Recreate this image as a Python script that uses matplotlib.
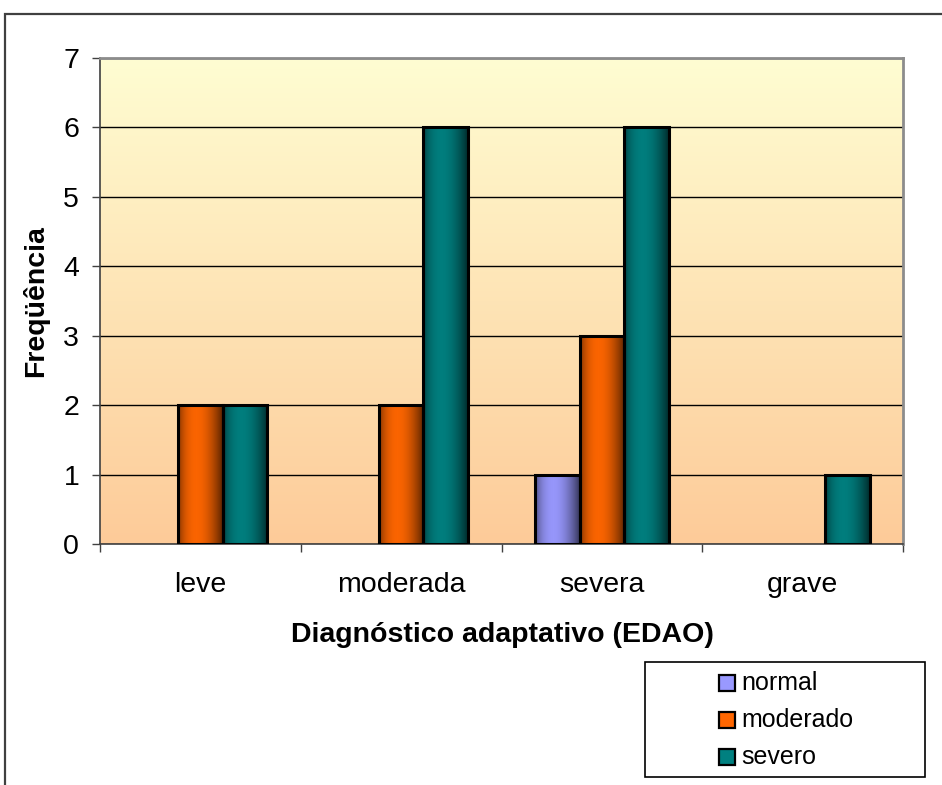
import numpy as np
import matplotlib
matplotlib.use("Agg")
import matplotlib.pyplot as plt
from matplotlib.patches import Rectangle
from matplotlib.colors import to_rgb

# Data
categories = ["leve", "moderada", "severa", "grave"]
series_names = ["normal", "moderado", "severo"]
normal = [0, 0, 1, 0]
moderado = [2, 2, 3, 0]
severo = [2, 6, 6, 1]
series_values = [normal, moderado, severo]
series_colors = ["#9999FF", "#FF6600", "#008080"]
y_ticks = [0, 1, 2, 3, 4, 5, 6, 7]

W, H = 942, 785
plt.rcParams["font.family"] = ["Liberation Sans", "DejaVu Sans"]

fig = plt.figure(figsize=(W / 100, H / 100), dpi=100)
fig.patch.set_facecolor("white")


def px(x, y):
    """Pixel coordinates (top-left origin) to figure fraction."""
    return x / W, 1 - y / H


# Outer chart frame (runs off the right and bottom edges)
fig.patches.append(Rectangle(px(5, 800), (W + 20) / W, (800 - 14) / H,
                             transform=fig.transFigure, fill=False,
                             edgecolor="#404040", linewidth=1.6))

left, right, top, bottom = 100, 903, 58, 544
ax = fig.add_axes([left / W, 1 - bottom / H, (right - left) / W, (bottom - top) / H])
ax.set_facecolor("none")

n = len(categories)
x = np.arange(n)
ymax = y_ticks[-1]

# Plot-area background: vertical gradient, light yellow to peach
top_col = np.array(to_rgb("#FFFDD2"))
bot_col = np.array(to_rgb("#FDCB99"))
t = np.linspace(0, 1, 256)[:, None]
bg = top_col * (1 - t) + bot_col * t
ax.imshow(bg[:, None, :].repeat(2, axis=1), extent=[-0.5, n - 0.5, 0, ymax],
          aspect="auto", zorder=0, interpolation="bilinear", origin="upper")

# Clustered bars, gap width 150%
w = 1 / (len(series_names) + 1.5)
offsets = (np.arange(len(series_names)) - (len(series_names) - 1) / 2) * w

# Horizontal shading profile to give the bars a rounded look
u = np.linspace(0, 1, 128)
shade = 0.42 + 0.58 * np.clip(np.sin(np.pi * (u ** 0.85)), 0, 1) ** 0.7
shade = shade * (1 - 0.25 * u ** 3)

for vals, col, off in zip(series_values, series_colors, offsets):
    base = np.array(to_rgb(col))
    grad = np.clip(base[None, :] * shade[:, None], 0, 1)
    bars = ax.bar(x + off, vals, w, facecolor="none", edgecolor="black",
                  linewidth=2.2, zorder=4)
    for b, v in zip(bars, vals):
        if v <= 0:
            b.set_visible(False)
            continue
        im = ax.imshow(grad[None, :, :], extent=[b.get_x(), b.get_x() + w, 0, v],
                       aspect="auto", zorder=3, interpolation="bilinear")
        im.set_clip_path(b)

ax.set_xlim(-0.5, n - 0.5)
ax.set_ylim(0, ymax)
ax.set_aspect("auto")

# Axes styling
ax.set_yticks(y_ticks)
ax.yaxis.grid(True, color="black", linewidth=1.0)
ax.set_axisbelow(True)
ax.tick_params(axis="y", direction="out", length=6, width=1, color="#404040",
               labelsize=20.5, pad=9)
ax.set_xticks(x)
ax.set_xticklabels(categories)
ax.set_xticks(np.arange(n + 1) - 0.5, minor=True)
ax.tick_params(axis="x", which="major", length=0, labelsize=20.5, pad=20)
ax.tick_params(axis="x", which="minor", direction="out", length=6, width=1,
               color="#404040")
for s in ["top", "right"]:
    ax.spines[s].set_color("#8c8c8c")
    ax.spines[s].set_linewidth(2.0)
ax.spines["left"].set_color("#404040")
ax.spines["left"].set_linewidth(1.2)
ax.spines["bottom"].set_color("#404040")
ax.spines["bottom"].set_linewidth(1.2)

# Axis titles
fig.text(*px(502, 642), "Diagnóstico adaptativo (EDAO)", ha="center",
         va="baseline", fontsize=20.5, fontweight="bold")
fig.text(*px(36, 301), "Freqüência", ha="center", va="center", rotation=90,
         fontsize=20.5, fontweight="bold")

# Legend box with entries
lx0, ly0, lx1, ly1 = 645, 662, 925, 777
fig.patches.append(Rectangle(px(lx0, ly1), (lx1 - lx0) / W, (ly1 - ly0) / H,
                             transform=fig.transFigure, facecolor="white",
                             edgecolor="black", linewidth=1.2))
row_y = [683, 720, 757]
for name, col, ry in zip(series_names, series_colors, row_y):
    fig.patches.append(Rectangle(px(719, ry + 8), 16 / W, 16 / H,
                                 transform=fig.transFigure, facecolor=col,
                                 edgecolor="black", linewidth=1.6))
    fig.text(*px(741, ry), name, ha="left", va="center", fontsize=18)

fig.savefig("out.png", dpi=100)
